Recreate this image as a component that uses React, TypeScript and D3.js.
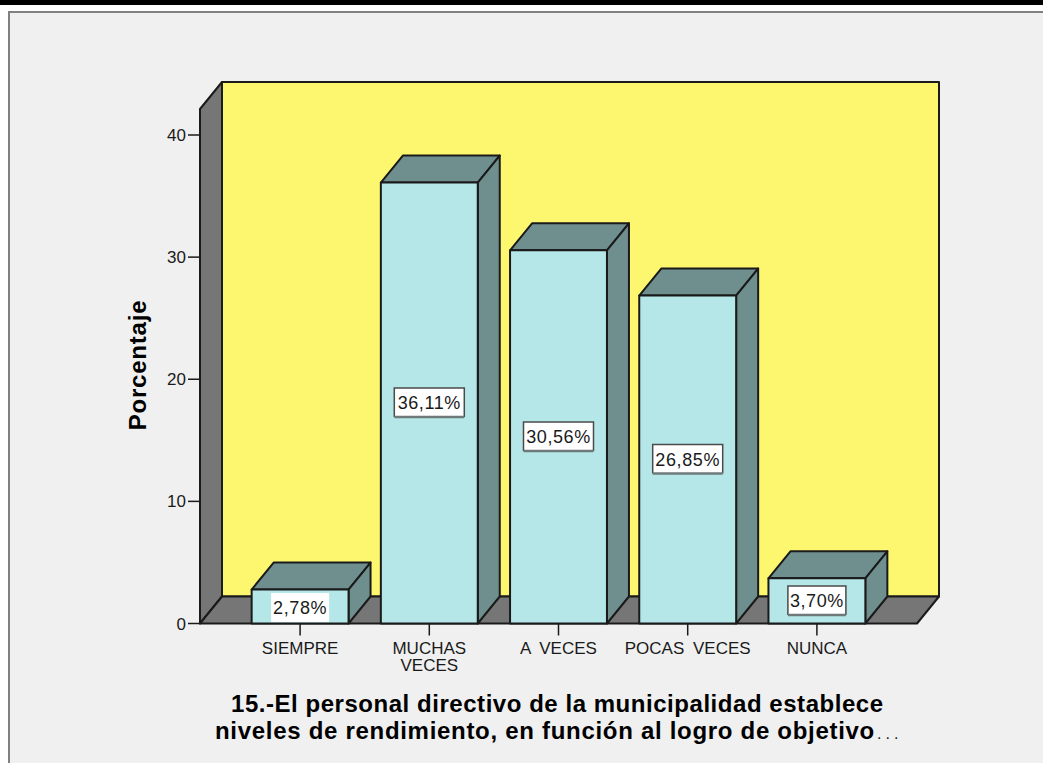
import React from "react";
import * as d3 from "d3";

const categories = ["SIEMPRE", "MUCHAS VECES", "A VECES", "POCAS VECES", "NUNCA"];
const percentages = [2.78, 36.11, 30.56, 26.85, 3.7];
const percentLabels = ["2,78%", "36,11%", "30,56%", "26,85%", "3,70%"];
const yTicks = [0, 10, 20, 30, 40];
const yAxisLabel = "Porcentaje";
const titleLines = ["15.-El personal directivo de la municipalidad establece", "niveles de rendimiento, en función al logro de objetivo"];

const W = 1043;
const H = 763;
const SANS = "'Liberation Sans', Arial, sans-serif";
const INK = "#1a1a1a";
const DX = 22;
const DY = -27;

const y = d3.scaleLinear().domain([0, 40]).range([623.5, 135]);
const x = d3.scaleBand().domain(categories).range([235.5, 881.5]).paddingInner(0.25).paddingOuter(0.125);
const yMax = y.invert(109);

const poly = (pts: [number, number][]) => (d3.line()(pts) ?? "") + "Z";

export default function App() {
  const x0 = 200;
  const x1 = 917;
  const y0 = y(0);
  const yt = y(yMax);
  return (
    <svg width={W} height={H} style={{ position: "absolute", left: 0, top: 0, background: "#fff" }}>
      <rect x={0} y={0} width={W} height={5} fill="#000" />
      <rect x={9} y={12} width={W + 20} height={H + 20} fill="#f0f0f0" stroke="#808080" strokeWidth={2} />

      {/* Chart box: back wall, side wall and floor */}
      <g stroke={INK} strokeWidth={2} strokeLinejoin="round">
        <path d={poly([[x0 + DX, yt + DY], [x1 + DX, yt + DY], [x1 + DX, y0 + DY], [x0 + DX, y0 + DY]])} fill="#fdf76f" />
        <path d={poly([[x0, yt], [x0 + DX, yt + DY], [x0 + DX, y0 + DY], [x0, y0]])} fill="#767676" />
        <path d={poly([[x0, y0], [x0 + DX, y0 + DY], [x1 + DX, y0 + DY], [x1, y0]])} fill="#767676" />
      </g>

      {/* Y axis */}
      {yTicks.map((t) => (
        <g key={t}>
          <line x1={188} x2={x0} y1={y(t)} y2={y(t)} stroke={INK} strokeWidth={1.5} />
          <text x={186} y={y(t) + 6} textAnchor="end" fontFamily={SANS} fontSize={17} fill={INK}>{t}</text>
        </g>
      ))}
      <text transform="translate(146,365) rotate(-90)" textAnchor="middle" fontFamily={SANS} fontSize={24} fontWeight={700} fill="#000" style={{ letterSpacing: "0.8px" }}>{yAxisLabel}</text>

      {/* Bars as extruded boxes */}
      {categories.map((c, i) => {
        const l = x(c)!;
        const r = l + x.bandwidth();
        const top = y(percentages[i]);
        return (
          <g key={c} stroke={INK} strokeWidth={2} strokeLinejoin="round">
            <path d={poly([[l, top], [l + DX, top + DY], [r + DX, top + DY], [r, top]])} fill="#6f8e8e" />
            <path d={poly([[r, top], [r + DX, top + DY], [r + DX, y0 + DY], [r, y0]])} fill="#6f8e8e" />
            <rect x={l} y={top} width={x.bandwidth()} height={y0 - top} fill="#b5e7e8" />
          </g>
        );
      })}

      {/* Value labels at each bar's mid height */}
      {categories.map((c, i) => {
        const cx = x(c)! + x.bandwidth() / 2;
        const cy = (y(percentages[i]) + y0) / 2 + (i === 0 ? 1 : -0.5);
        const bw = i === 0 || i === 4 ? 58 : 70;
        return (
          <g key={c}>
            <rect x={cx - bw / 2} y={cy - 14.5} width={bw} height={29} fill="#fff" />
            {i > 0 && (
              <path
                d={`M${cx - bw / 2},${cy + 14.5}V${cy - 14.5}H${cx + bw / 2}V${cy + 14.5}`}
                fill="none"
                stroke="#4a4a4a"
                strokeWidth={1.5}
              />
            )}
            {i > 0 && <line x1={cx - bw / 2} x2={cx + bw / 2} y1={cy + 14.5} y2={cy + 14.5} stroke="#6e7a7a" strokeWidth={2.5} />}
            <text x={cx} y={cy + 6.5} textAnchor="middle" fontFamily={SANS} fontSize={18} fill={INK} style={{ letterSpacing: "0.6px" }}>{percentLabels[i]}</text>
          </g>
        );
      })}

      {/* Category ticks and wrapped labels */}
      {categories.map((c) => {
        const cx = x(c)! + x.bandwidth() / 2;
        const lines = c === "MUCHAS VECES" ? c.split(" ") : [c];
        return (
          <g key={c}>
            <line x1={cx} x2={cx} y1={y0} y2={y0 + 12} stroke={INK} strokeWidth={1.5} />
            {lines.map((s, j) => (
              <text key={s} x={cx} y={654 + j * 17} textAnchor="middle" fontFamily={SANS} fontSize={17} fill={INK} style={{ wordSpacing: "4px" }}>{s}</text>
            ))}
          </g>
        );
      })}

      {/* Axis title, cut short with an ellipsis */}
      <text x={231} y={712} fontFamily={SANS} fontSize={24} fontWeight={700} fill="#000" style={{ letterSpacing: "0.54px" }}>{titleLines[0]}</text>
      <text x={215} y={739} fontFamily={SANS} fontSize={24} fontWeight={700} fill="#000" style={{ letterSpacing: "0.7px" }}>{titleLines[1]}</text>
      <text x={877} y={739} fontFamily={SANS} fontSize={16} fill={INK} style={{ letterSpacing: "4px" }}>...</text>
    </svg>
  );
}
